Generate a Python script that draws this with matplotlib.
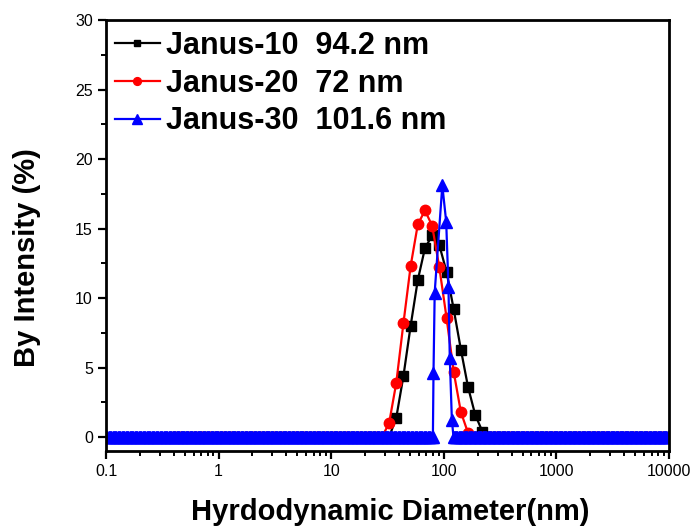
import numpy as np
import matplotlib.pyplot as plt
from matplotlib.ticker import MultipleLocator, LogLocator, NullFormatter

plt.rcParams['font.family'] = ['Liberation Sans', 'DejaVu Sans']

# size bins of the instrument (nm), Janus-10 and Janus-20
size_bins = np.geomspace(0.4, 10000, 70)
janus10 = [0] * 31 + [1.4, 4.4, 8.0, 11.3, 13.6, 14.5, 13.8, 11.9, 9.2, 6.3, 3.6, 1.6, 0.4] + [0] * 26
janus20 = [0] * 30 + [1.0, 3.9, 8.2, 12.3, 15.3, 16.3, 15.2, 12.2, 8.6, 4.7, 1.8, 0.3] + [0] * 28

# Janus-30 was measured on a finer grid
j30_left_x = np.geomspace(0.1, 78, 250)
j30_peak_x = [80, 81, 83, 97, 105, 110, 113, 118, 122]
j30_peak_y = [0, 4.6, 10.4, 18.1, 15.5, 10.8, 5.7, 1.2, 0]
j30_right_x = np.geomspace(125, 10000, 170)

janus30_x = np.concatenate([j30_left_x, j30_peak_x, j30_right_x])
janus30 = np.concatenate([np.zeros(len(j30_left_x)), j30_peak_y, np.zeros(len(j30_right_x))])

labels = ['Janus-10  94.2 nm', 'Janus-20  72 nm', 'Janus-30  101.6 nm']

fig = plt.figure(figsize=(6.92, 5.26), dpi=100)
ax = fig.add_axes([106 / 692, 1 - 451 / 526, 563 / 692, 431 / 526])

ax.plot(size_bins, janus10, color='black', marker='s', ms=6.5, lw=1.6, label=labels[0])
ax.plot(size_bins, janus20, color='red', marker='o', ms=7.5, lw=1.6, label=labels[1])
ax.plot(janus30_x, janus30, color='blue', marker='^', ms=9, lw=1.6, label=labels[2])

ax.set_xscale('log')
ax.set_xlim(0.1, 10000)
ax.set_ylim(-1, 30)
ax.set_xticks([0.1, 1, 10, 100, 1000, 10000])
ax.set_xticklabels(['0.1', '1', '10', '100', '1000', '10000'])
ax.xaxis.set_minor_locator(LogLocator(base=10, subs=np.arange(2, 10), numticks=20))
ax.xaxis.set_minor_formatter(NullFormatter())
ax.yaxis.set_major_locator(MultipleLocator(5))
ax.yaxis.set_minor_locator(MultipleLocator(2.5))

for s in ax.spines.values():
    s.set_linewidth(2)
ax.tick_params(which='major', direction='out', length=6, width=1.6, labelsize=11.5, top=False, right=False)
ax.tick_params(which='minor', direction='out', length=3.5, width=1.4, top=False, right=False)

fig.text(390 / 692, 1 - 512 / 526, 'Hyrdodynamic Diameter(nm)', fontsize=21, fontweight='bold',
         ha='center', va='center')
fig.text(27 / 692, 1 - 258 / 526, 'By Intensity (%)', fontsize=21, fontweight='bold',
         ha='center', va='center', rotation=90)

leg = ax.legend(loc='upper left', bbox_to_anchor=(-0.012, 1.01), frameon=False,
                handlelength=1.5, handletextpad=0.2, labelspacing=0.25, borderaxespad=0.1,
                prop={'weight': 'bold', 'size': 22}, markerscale=0.75)

fig.savefig('out.png', dpi=100)
